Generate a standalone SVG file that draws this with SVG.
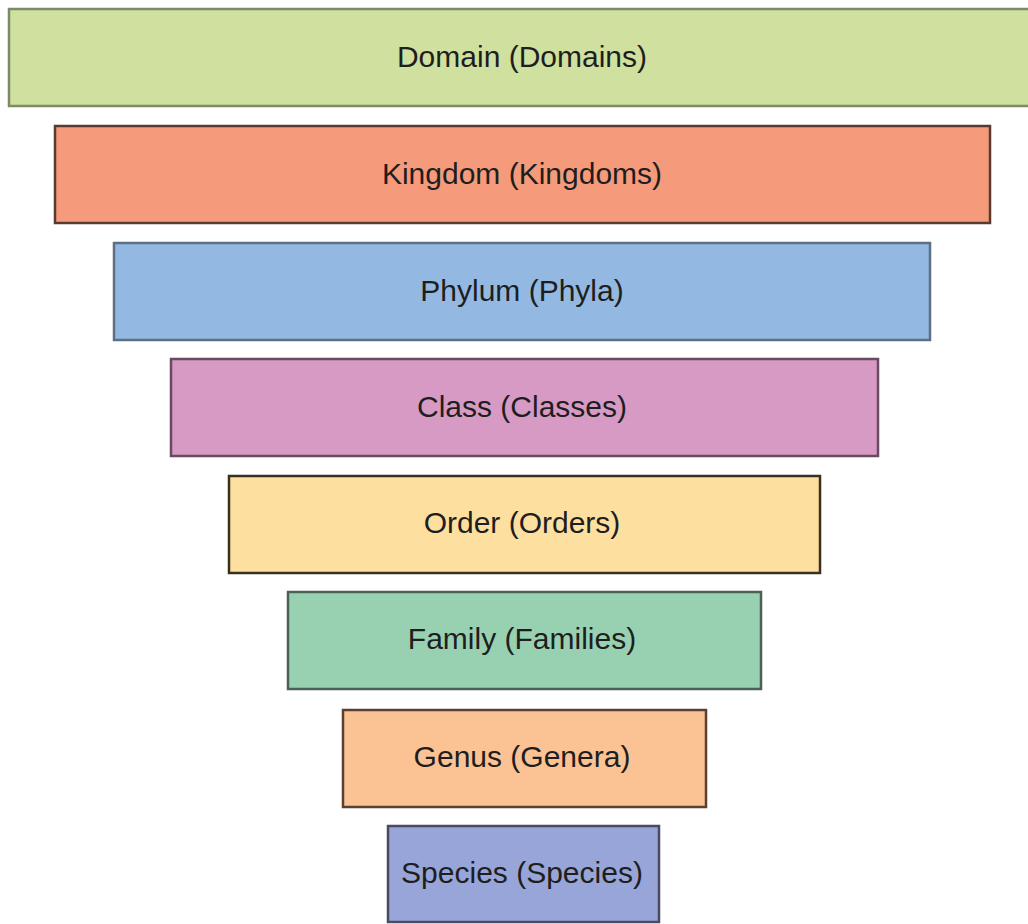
<svg xmlns="http://www.w3.org/2000/svg" width="1028" height="924" viewBox="0 0 1028 924">
<style>
.box{stroke-width:2.5}
.lbl{font-family:"Liberation Sans",Arial,sans-serif;font-size:30px;fill:#1e1e1e;text-anchor:middle}
</style>
<rect width="1028" height="924" fill="#ffffff"/>
<g id="connectors"/>
<g id="domain"><rect class="box" x="9" y="9" width="1030" height="97" fill="#cfe09f" stroke="#7c8a66"/><text class="lbl" x="522" y="67">Domain (Domains)</text></g>
<g id="kingdom"><rect class="box" x="55" y="126" width="935" height="97" fill="#f59a7a" stroke="#5a3a30"/><text class="lbl" x="522" y="184">Kingdom (Kingdoms)</text></g>
<g id="phylum"><rect class="box" x="114" y="243" width="816" height="97" fill="#93b9e3" stroke="#5f6f82"/><text class="lbl" x="522" y="301">Phylum (Phyla)</text></g>
<g id="class"><rect class="box" x="171" y="359" width="707" height="97" fill="#d79ac4" stroke="#6a4a60"/><text class="lbl" x="522" y="417">Class (Classes)</text></g>
<g id="order"><rect class="box" x="229" y="476" width="591" height="97" fill="#fde0a0" stroke="#3a3020"/><text class="lbl" x="522" y="533">Order (Orders)</text></g>
<g id="family"><rect class="box" x="288" y="592" width="473" height="97" fill="#98d1b1" stroke="#4a6255"/><text class="lbl" x="522" y="649">Family (Families)</text></g>
<g id="genus"><rect class="box" x="343" y="710" width="363" height="97" fill="#fbc394" stroke="#5a4030"/><text class="lbl" x="522" y="767">Genus (Genera)</text></g>
<g id="species"><rect class="box" x="388" y="826" width="271" height="96" fill="#98a5d8" stroke="#4a4a60"/><text class="lbl" x="522" y="883">Species (Species)</text></g>
</svg>
